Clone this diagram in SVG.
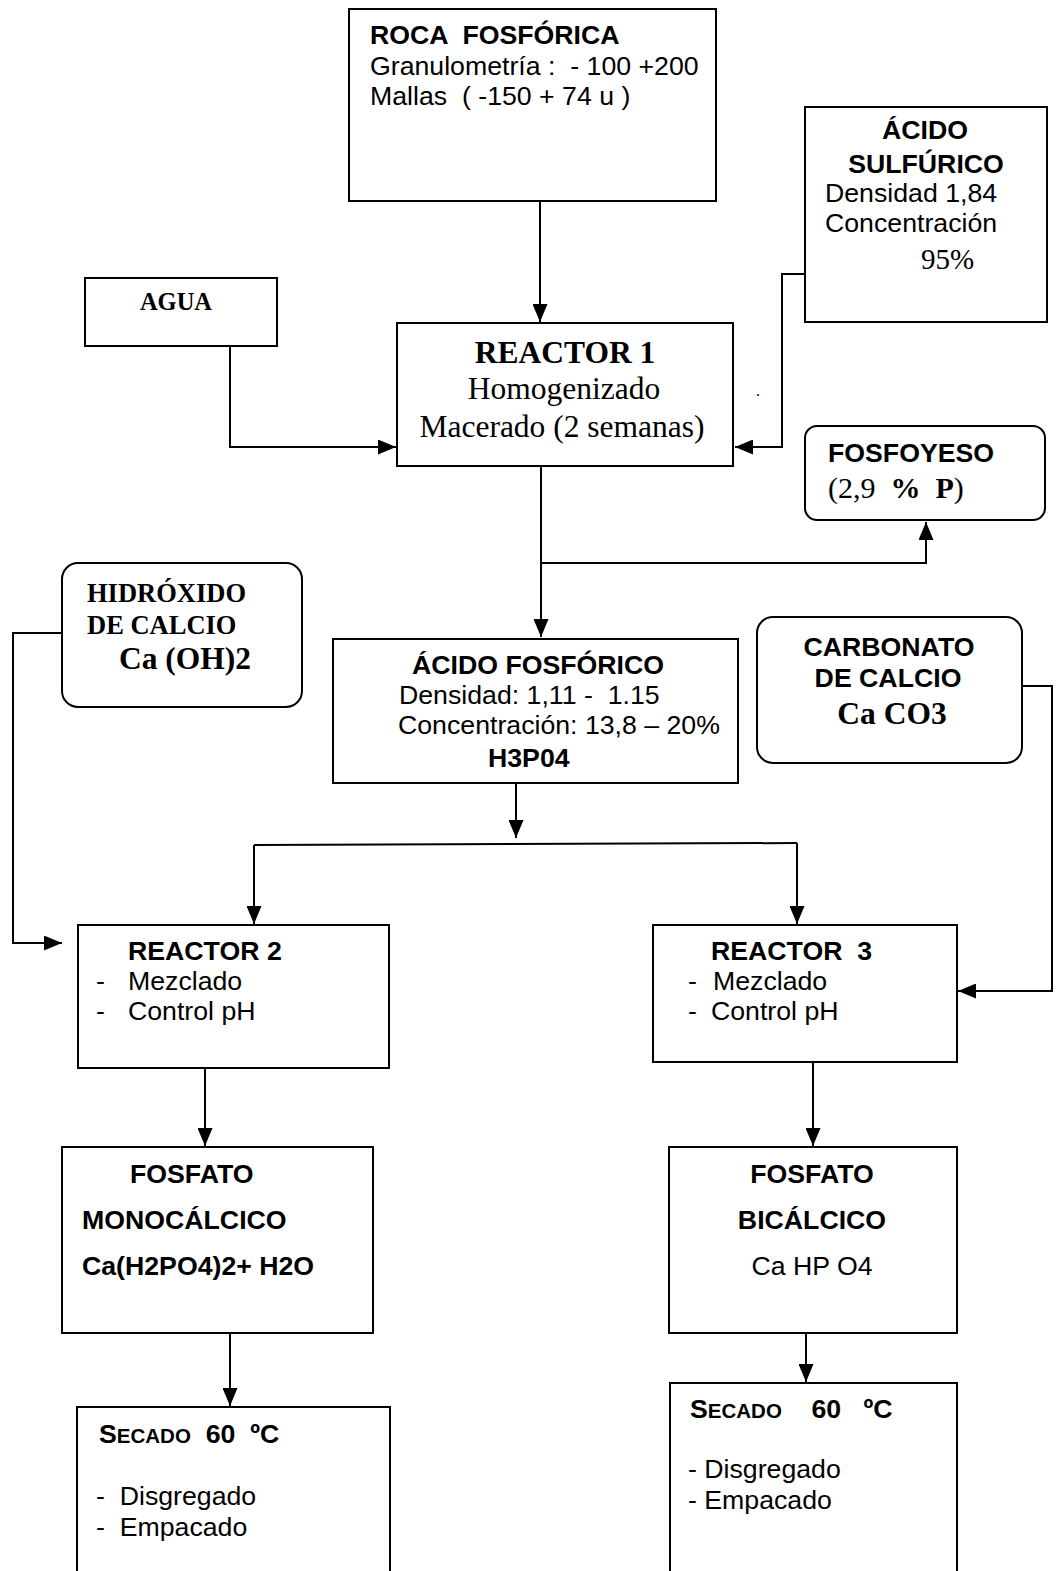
<svg xmlns="http://www.w3.org/2000/svg" width="1057" height="1571" viewBox="0 0 1057 1571">
<style>
.box{fill:#fff;stroke:#000;stroke-width:2}
.c{fill:none;stroke:#000;stroke-width:2}
.s{font-family:"Liberation Sans",Arial,sans-serif;font-size:26.7px;fill:#000;white-space:pre}
.sb{font-family:"Liberation Sans",Arial,sans-serif;font-size:26.7px;font-weight:bold;fill:#000;white-space:pre}
.r{font-family:"Liberation Serif","Times New Roman",serif;fill:#000;white-space:pre}
.rb{font-family:"Liberation Serif","Times New Roman",serif;font-weight:bold;fill:#000;white-space:pre}
.m{text-anchor:middle}
</style>
<defs>
<marker id="ah" markerUnits="userSpaceOnUse" markerWidth="18" markerHeight="15" refX="18" refY="7.5" orient="auto">
<path d="M0,0 L18,7.5 L0,15 z" fill="#000"/>
</marker>
</defs>
<rect width="1057" height="1571" fill="#fff"/>

<g id="connectors">
<path class="c" d="M540,201 V322" marker-end="url(#ah)"/>
<path class="c" d="M230,346 V447 H396" marker-end="url(#ah)"/>
<path class="c" d="M805,274 H782 V447 H735" marker-end="url(#ah)"/>
<path class="c" d="M541,466 V637" marker-end="url(#ah)"/>
<path class="c" d="M541,563 H926 V522" marker-end="url(#ah)"/>
<path class="c" d="M62,633 H13 V943 H62" marker-end="url(#ah)"/>
<path class="c" d="M516,783 V838" marker-end="url(#ah)"/>
<path class="c" d="M254,845 L797,843"/>
<path class="c" d="M254,845 V924" marker-end="url(#ah)"/>
<path class="c" d="M797,843 V924" marker-end="url(#ah)"/>
<path class="c" d="M1022,686 H1052 V991 H958" marker-end="url(#ah)"/>
<path class="c" d="M205,1068 V1146" marker-end="url(#ah)"/>
<path class="c" d="M813,1062 V1146" marker-end="url(#ah)"/>
<path class="c" d="M230,1330 V1406" marker-end="url(#ah)"/>
<path class="c" d="M806,1333 V1382" marker-end="url(#ah)"/>
</g>

<g id="roca">
<rect class="box" x="349" y="9" width="367" height="192"/>
<text class="sb" x="370" y="44">ROCA  FOSFÓRICA</text>
<text class="s" x="370" y="75">Granulometría :  - 100 +200</text>
<text class="s" x="370" y="105">Mallas  ( -150 + 74 u )</text>
</g>

<g id="acido-sulfurico">
<rect class="box" x="805" y="107" width="242" height="215"/>
<text class="sb m" x="925" y="139">ÁCIDO</text>
<text class="sb m" x="926" y="173">SULFÚRICO</text>
<text class="s" x="825" y="202">Densidad 1,84</text>
<text class="s" x="825" y="232">Concentración</text>
<text class="r" x="921" y="269" font-size="29">95%</text>
</g>

<g id="agua">
<rect class="box" x="85" y="278" width="192" height="68"/>
<text class="rb m" x="176" y="310" font-size="24.5">AGUA</text>
</g>

<g id="reactor1">
<rect class="box" x="397" y="323" width="336" height="143"/>
<text class="rb m" x="565" y="363" font-size="31.5">REACTOR 1</text>
<text class="r m" x="564" y="399" font-size="31.5">Homogenizado</text>
<text class="r m" x="562" y="437" font-size="31.5">Macerado (2 semanas)</text>
<text class="r" x="756" y="396" font-size="16">.</text>
</g>

<g id="fosfoyeso">
<rect class="box" x="805" y="426" width="240" height="94" rx="12"/>
<text class="sb" x="828" y="462">FOSFOYESO</text>
<text class="r" x="828" y="498" font-size="30">(2,9  <tspan font-weight="bold">%  P</tspan>)</text>
</g>

<g id="hidroxido">
<rect class="box" x="62" y="563" width="240" height="144" rx="16"/>
<text class="rb" x="87" y="602" font-size="26.5">HIDRÓXIDO</text>
<text class="rb" x="87" y="634" font-size="26.5">DE CALCIO</text>
<text class="rb" x="119" y="669" font-size="31.5">Ca (OH)2</text>
</g>

<g id="acido-fosforico">
<rect class="box" x="333" y="639" width="405" height="144"/>
<text class="sb" x="412" y="674">ÁCIDO FOSFÓRICO</text>
<text class="s" x="399" y="704">Densidad: 1,11 -  1.15</text>
<text class="s" x="398" y="734">Concentración: 13,8 – 20%</text>
<text class="sb" x="488" y="767">H3P04</text>
</g>

<g id="carbonato">
<rect class="box" x="757" y="617" width="265" height="146" rx="16"/>
<text class="sb m" x="889" y="656">CARBONATO</text>
<text class="sb m" x="888" y="687">DE CALCIO</text>
<text class="rb m" x="892" y="724" font-size="31.5">Ca CO3</text>
</g>

<g id="reactor2">
<rect class="box" x="78" y="925" width="311" height="143"/>
<text class="sb" x="128" y="960">REACTOR 2</text>
<text class="s" x="96" y="990">-</text>
<text class="s" x="128" y="990">Mezclado</text>
<text class="s" x="96" y="1020">-</text>
<text class="s" x="128" y="1020">Control pH</text>
</g>

<g id="reactor3">
<rect class="box" x="653" y="925" width="304" height="137"/>
<text class="sb" x="711" y="960">REACTOR  3</text>
<text class="s" x="688" y="990">-</text>
<text class="s" x="713" y="990">Mezclado</text>
<text class="s" x="688" y="1020">-</text>
<text class="s" x="711" y="1020">Control pH</text>
</g>

<g id="fosfato-monocalcico">
<rect class="box" x="62" y="1147" width="311" height="186"/>
<text class="sb" x="130" y="1183">FOSFATO</text>
<text class="sb" x="82" y="1229">MONOCÁLCICO</text>
<text class="sb" x="82" y="1275">Ca(H2PO4)2+ H2O</text>
</g>

<g id="fosfato-bicalcico">
<rect class="box" x="669" y="1147" width="288" height="186"/>
<text class="sb m" x="812" y="1183">FOSFATO</text>
<text class="sb m" x="812" y="1229">BICÁLCICO</text>
<text class="s m" x="812" y="1275">Ca HP O4</text>
</g>

<g id="secado-1">
<rect class="box" x="77" y="1407" width="313" height="180"/>
<text class="sb" x="99" y="1443">S<tspan font-size="20.5">ECADO</tspan>  60  ºC</text>
<text class="s" x="96" y="1505">-  Disgregado</text>
<text class="s" x="96" y="1536">-  Empacado</text>
</g>

<g id="secado-2">
<rect class="box" x="670" y="1383" width="287" height="200"/>
<text class="sb" x="690" y="1418">S<tspan font-size="20.5">ECADO</tspan>    60   ºC</text>
<text class="s" x="688" y="1478">- Disgregado</text>
<text class="s" x="688" y="1509">- Empacado</text>
</g>
</svg>
